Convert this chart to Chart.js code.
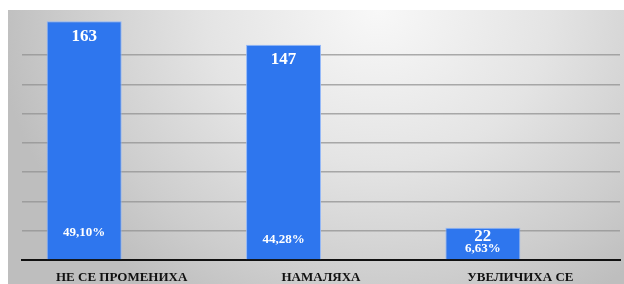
<!DOCTYPE html>
<html>
<head>
<meta charset="utf-8">
<script src="https://cdn.jsdelivr.net/npm/chart.js@4.4.1/dist/chart.umd.min.js"></script>
<style>
  html, body { margin: 0; padding: 0; background: #ffffff; }
  #wrap { position: relative; width: 624px; height: 284px; }
  #bg { position: absolute; left: 8px; top: 10px; width: 616px; height: 274px;
        background: radial-gradient(ellipse 62% 125% at 60% 0%, #f8f8f8 0%, #e4e4e4 45%, #cdcdcd 80%, #bebebe 100%); }
  canvas { position: absolute; left: 0; top: 0; }
</style>
</head>
<body>
<div id="wrap"><div id="bg"></div><canvas id="c" width="624" height="284"></canvas></div>
<script>
const categories = ["НЕ СЕ ПРОМЕНИХА", "НАМАЛЯХА", "УВЕЛИЧИХА СЕ"];
const counts = [163, 147, 22];
const percentLabels = ["49,10%", "44,28%", "6,63%"];
const emptySlot = [null, null, null];

const serif = '"Liberation Serif", "Times New Roman", serif';

const labelPlugin = {
  id: 'barLabels',
  afterDatasetsDraw(chart) {
    const ctx = chart.ctx;
    const meta = chart.getDatasetMeta(0);
    ctx.save();
    ctx.fillStyle = '#ffffff';
    ctx.textAlign = 'center';
    ctx.textBaseline = 'middle';
    meta.data.forEach((bar, i) => {
      const h = bar.base - bar.y;
      const small = h < 60;
      ctx.font = 'bold 17px ' + serif;
      ctx.fillText(String(counts[i]), bar.x, bar.y + (small ? 9 : 15));
      ctx.font = 'bold 13px ' + serif;
      let py;
      if (small) py = bar.y + 21;
      else py = bar.base - (i === 0 ? 27 : 20);
      ctx.fillText(percentLabels[i], bar.x, py);
    });
    ctx.restore();
  }
};

new Chart(document.getElementById('c'), {
  type: 'bar',
  data: {
    labels: categories,
    datasets: [
      { data: counts, backgroundColor: 'rgb(46,118,238)', borderColor: 'rgba(140,180,250,0.9)', borderWidth: 1,
        categoryPercentage: 0.752, barPercentage: 1.0 },
      { data: emptySlot, backgroundColor: 'rgba(0,0,0,0)', categoryPercentage: 0.752, barPercentage: 1.0 }
    ]
  },
  options: {
    responsive: false,
    animation: false,
    layout: { padding: { left: 22, right: 4, top: 14, bottom: 0 } },
    plugins: { legend: { display: false }, tooltip: { enabled: false } },
    scales: {
      x: {
        grid: { display: false, drawTicks: false, tickLength: 0 },
        border: { display: true, color: '#111111', width: 2 },
        ticks: { color: '#111111', padding: 10, maxRotation: 0, autoSkip: false,
                 font: { family: serif, size: 13, weight: 'bold', lineHeight: 1.2 } },
        afterFit(scale) { scale.height = 24; }
      },
      y: {
        min: 0, max: 168,
        ticks: { display: false, stepSize: 20 },
        border: { display: false },
        grid: { drawTicks: false, lineWidth: 1.5,
                color: (c) => (c.tick && c.tick.value % 20 === 0 && c.tick.value > 0) ? 'rgba(145,145,145,0.75)' : 'rgba(0,0,0,0)' }
      }
    }
  },
  plugins: [labelPlugin]
});
</script>
</body>
</html>
